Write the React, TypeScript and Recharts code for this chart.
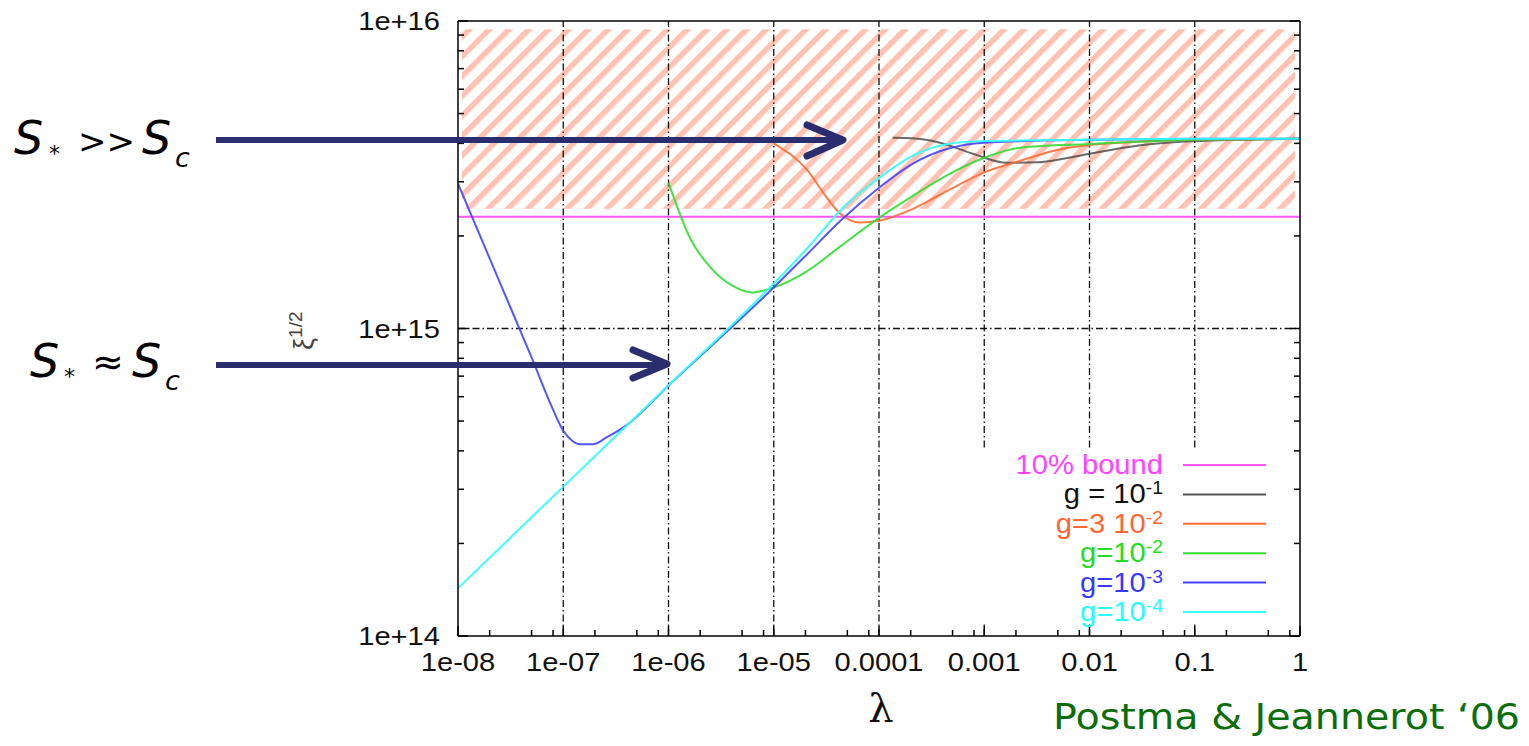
import { LineChart, Line, XAxis, YAxis, ReferenceLine, ReferenceArea } from 'recharts'

// axis ticks
const lambdaMajor = [1e-8, 1e-7, 1e-6, 1e-5, 1e-4, 1e-3, 1e-2, 1e-1, 1]
const lambdaLabels = ['1e-08', '1e-07', '1e-06', '1e-05', '0.0001', '0.001', '0.01', '0.1', '1']
const lambdaMinorSteps = [2, 5, 8]
const xiMajor = [1e14, 1e15, 1e16]
const xiLabels = ['1e+14', '1e+15', '1e+16']
const xiMinorSteps = [2, 3, 4, 5, 6, 7, 8, 9]
const gridLambda = [1e-7, 1e-6, 1e-5, 1e-4, 1e-3, 1e-2, 1e-1]
const gridXi = [1e15]

// excluded region (hatched) and the 10% bound
const hatchLambda = [1.09e-8, 0.895]
const hatchXi = [2.45e15, 9.4e15]
const lambdaBound = [1e-8, 1]
const xiBound = [2.31e15, 2.31e15]

// g = 1e-1
const lambdaG1 = [1.35e-4, 2.2e-4, 3.8e-4, 7.8e-4, 1.65e-3, 3.2e-3, 6e-3, 1e-2, 3.2e-2, 0.1, 1]
const xiG1 = [4.17e15, 4.15e15, 4.02e15, 3.7e15, 3.46e15, 3.47e15, 3.58e15, 3.7e15, 3.95e15, 4.07e15, 4.14e15]

// g = 3e-2
const lambdaG3 = [1e-5, 2.1e-5, 3.2e-5, 4.3e-5, 6.6e-5, 1e-4, 2.1e-4, 4.5e-4, 1e-3, 2.2e-3, 4.5e-3, 1e-2, 0.1, 1]
const xiG3 = [4.0e15, 3.26e15, 2.66e15, 2.36e15, 2.21e15, 2.24e15, 2.45e15, 2.81e15, 3.22e15, 3.51e15, 3.78e15, 3.95e15, 4.11e15, 4.14e15]

// g = 1e-2
const lambdaG2 = [1e-6, 1.6e-6, 2.5e-6, 4e-6, 6.3e-6, 1e-5, 2.1e-5, 4.3e-5, 1e-4, 2.1e-4, 4.5e-4, 1e-3, 2.2e-3, 1e-2, 0.1, 1]
const xiG2 = [2.98e15, 1.97e15, 1.58e15, 1.38e15, 1.31e15, 1.36e15, 1.54e15, 1.85e15, 2.29e15, 2.7e15, 3.16e15, 3.59e15, 3.87e15, 3.98e15, 4.11e15, 4.14e15]

// g = 1e-3
const lambdaG4 = [1e-8, 2.5e-8, 5e-8, 7.9e-8, 1e-7, 1.2e-7, 1.45e-7, 1.9e-7, 2.6e-7, 4e-7, 1e-6, 1e-5, 2.1e-5, 4.3e-5, 1e-4, 2.1e-4, 4.5e-4, 1e-3, 1e-2, 0.1, 1]
const xiG4 = [2.96e15, 1.41e15, 8.05e14, 5.5e14, 4.65e14, 4.33e14, 4.2e14, 4.2e14, 4.43e14, 4.85e14, 6.53e14, 1.36e15, 1.75e15, 2.24e15, 2.87e15, 3.44e15, 3.84e15, 4.02e15, 4.11e15, 4.14e15, 4.14e15]

// g = 1e-4
const lambdaG5 = [1e-8, 1e-7, 1e-6, 1e-5, 2.1e-5, 4.3e-5, 1e-4, 2.1e-4, 4.5e-4, 1e-3, 1e-2, 0.1, 1]
const xiG5 = [1.43e14, 3.06e14, 6.53e14, 1.4e15, 1.83e15, 2.42e15, 3.09e15, 3.65e15, 3.98e15, 4.07e15, 4.11e15, 4.14e15, 4.14e15]

const toRows = (xs: number[], ys: number[]) => xs.map((l, i) => ({ l, xi: ys[i] }))

const series = [
  { name: 'bound', rows: toRows(lambdaBound, xiBound), color: '#ff55ff', opacity: 1 },
  { name: 'g1', rows: toRows(lambdaG1, xiG1), color: '#3a3a3a', opacity: 0.75 },
  { name: 'g3', rows: toRows(lambdaG3, xiG3), color: '#ff6a33', opacity: 0.9 },
  { name: 'g2', rows: toRows(lambdaG2, xiG2), color: '#33dd33', opacity: 0.9 },
  { name: 'g4', rows: toRows(lambdaG4, xiG4), color: '#4444ff', opacity: 0.9 },
  { name: 'g5', rows: toRows(lambdaG5, xiG5), color: '#33ffff', opacity: 0.95 },
]

const legendRows = [
  { base: '10% bound', sup: '', color: '#ff44ff', line: '#ff55ff' },
  { base: 'g = 10', sup: '-1', color: '#111', line: '#555' },
  { base: 'g=3 10', sup: '-2', color: '#ff6633', line: '#ff6a33' },
  { base: 'g=10', sup: '-2', color: '#22dd22', line: '#33dd33' },
  { base: 'g=10', sup: '-3', color: '#3838ff', line: '#4444ff' },
  { base: 'g=10', sup: '-4', color: '#22ffff', line: '#33ffff' },
]

const withMinors = (major: number[], steps: number[]) =>
  [...major, ...major.slice(0, -1).flatMap((d) => steps.map((m) => m * d))].sort((a, b) => a - b)

const xTicks = withMinors(lambdaMajor, lambdaMinorSteps)
const yTicks = withMinors(xiMajor, xiMinorSteps)

const majorIndex = (list: number[], v: number) =>
  list.findIndex((t) => Math.abs(Math.log10(t) - Math.log10(v)) < 1e-6)

const FONT = 'Liberation Sans, Arial, Helvetica, sans-serif'

const BottomTick = ({ x, y, payload }: any) => {
  const i = majorIndex(lambdaMajor, payload.value)
  const len = i >= 0 ? 10 : 6
  return (
    <g>
      <line x1={x} y1={y} x2={x} y2={y - len} stroke="#000" strokeWidth={1.5} />
      {i >= 0 && (
        <text
          transform={`translate(${x},${y + 35}) scale(1.12,1)`}
          textAnchor="middle"
          fontSize={26}
          fontFamily={FONT}
          fill="#111"
        >
          {lambdaLabels[i]}
        </text>
      )}
    </g>
  )
}

const TopTick = ({ x, y, payload }: any) => {
  const len = majorIndex(lambdaMajor, payload.value) >= 0 ? 10 : 6
  return <line x1={x} y1={y} x2={x} y2={y + len} stroke="#000" strokeWidth={1.5} />
}

const LeftTick = ({ x, y, payload }: any) => {
  const i = majorIndex(xiMajor, payload.value)
  const len = i >= 0 ? 10 : 6
  return (
    <g>
      <line x1={x} y1={y} x2={x + len} y2={y} stroke="#000" strokeWidth={1.5} />
      {i >= 0 && (
        <text
          transform={`translate(${x - 18},${y + 9}) scale(1.12,1)`}
          textAnchor="end"
          fontSize={26}
          fontFamily={FONT}
          fill="#111"
        >
          {xiLabels[i]}
        </text>
      )}
    </g>
  )
}

const RightTick = ({ x, y, payload }: any) => {
  const len = majorIndex(xiMajor, payload.value) >= 0 ? 10 : 6
  return <line x1={x} y1={y} x2={x - len} y2={y} stroke="#000" strokeWidth={1.5} />
}

const HatchShape = (p: any) => (
  <g>
    <defs>
      <pattern id="hatch" patternUnits="userSpaceOnUse" width={14} height={14} patternTransform="rotate(45)">
        <rect x={0} y={0} width={5.5} height={14} fill="#ffc2b2" />
      </pattern>
    </defs>
    <rect x={p.x} y={p.y} width={p.width} height={p.height} fill="url(#hatch)" />
  </g>
)

const NAVY = '#2a2d6e'

export default function App() {
  const axisLine = { stroke: '#000', strokeWidth: 1.5 }
  return (
    <div style={{ position: 'absolute', left: 0, top: 0, width: 1529, height: 746, background: '#fff' }}>
      <LineChart width={1529} height={746} margin={{ top: 11, right: 219, bottom: 70, left: 398 }}>
        <XAxis
          dataKey="l"
          type="number"
          scale="log"
          domain={[1e-8, 1]}
          allowDataOverflow
          ticks={xTicks}
          interval={0}
          tick={<BottomTick />}
          tickSize={0}
          tickMargin={0}
          tickLine={false}
          axisLine={axisLine}
          height={40}
        />
        <XAxis
          xAxisId="top"
          orientation="top"
          type="number"
          scale="log"
          domain={[1e-8, 1]}
          allowDataOverflow
          ticks={xTicks}
          interval={0}
          tick={<TopTick />}
          tickSize={0}
          tickMargin={0}
          tickLine={false}
          axisLine={axisLine}
          height={10}
        />
        <YAxis
          type="number"
          scale="log"
          domain={[1e14, 1e16]}
          allowDataOverflow
          ticks={yTicks}
          interval={0}
          tick={<LeftTick />}
          tickSize={0}
          tickMargin={0}
          tickLine={false}
          axisLine={axisLine}
          width={60}
        />
        <YAxis
          yAxisId="right"
          orientation="right"
          type="number"
          scale="log"
          domain={[1e14, 1e16]}
          allowDataOverflow
          ticks={yTicks}
          interval={0}
          tick={<RightTick />}
          tickSize={0}
          tickMargin={0}
          tickLine={false}
          axisLine={axisLine}
          width={10}
        />
        <ReferenceArea
          x1={hatchLambda[0]}
          x2={hatchLambda[1]}
          y1={hatchXi[0]}
          y2={hatchXi[1]}
          shape={HatchShape}
        />
        {gridLambda.map((v) => (
          <ReferenceLine key={`gx${v}`} x={v} stroke="#111" strokeWidth={1.3} strokeDasharray="7 3 1.5 3" />
        ))}
        {gridXi.map((v) => (
          <ReferenceLine key={`gy${v}`} y={v} stroke="#111" strokeWidth={1.3} strokeDasharray="7 3 1.5 3" />
        ))}
        {series.map((s) => (
          <Line
            key={s.name}
            data={s.rows}
            dataKey="xi"
            type="monotone"
            stroke={s.color}
            strokeOpacity={s.opacity}
            strokeWidth={2}
            dot={false}
            activeDot={false}
            isAnimationActive={false}
          />
        ))}
      </LineChart>

      <svg
        width={1529}
        height={746}
        style={{ position: 'absolute', left: 0, top: 0, pointerEvents: 'none' }}
      >
        {/* legend box */}
        <rect x={978} y={450} width={312} height={174} fill="#fff" />
        {legendRows.map((r, i) => {
          const cy = 465 + i * 29.4
          return (
            <g key={r.base + r.sup}>
              <text
                transform={`translate(1163,${cy + 9}) scale(1.08,1)`}
                textAnchor="end"
                fontSize={27}
                fontFamily={FONT}
                fill={r.color}
              >
                {r.base}
                {r.sup && (
                  <tspan dy={-9} fontSize={18}>
                    {r.sup}
                  </tspan>
                )}
              </text>
              <line x1={1183} y1={cy} x2={1266} y2={cy} stroke={r.line} strokeWidth={2} />
            </g>
          )
        })}

        {/* annotations */}
        <g fontFamily="DejaVu Sans, sans-serif" fill="#000">
          <text x={14} y={154} fontSize={46} fontStyle="italic">S</text>
          <text x={49} y={161} fontSize={22}>*</text>
          <text x={78} y={153} fontSize={34}>&gt;&gt;</text>
          <text x={142} y={154} fontSize={46} fontStyle="italic">S</text>
          <text x={175} y={167} fontSize={27} fontStyle="italic">c</text>

          <text x={30} y={377} fontSize={46} fontStyle="italic">S</text>
          <text x={64} y={384} fontSize={22}>*</text>
          <text x={92} y={375} fontSize={38}>≈</text>
          <text x={132} y={377} fontSize={46} fontStyle="italic">S</text>
          <text x={165} y={390} fontSize={27} fontStyle="italic">c</text>
        </g>
        <line x1={216} y1={140} x2={838} y2={140} stroke={NAVY} strokeWidth={6} />
        <polyline
          points="807,125 843,140 807,156"
          fill="none"
          stroke={NAVY}
          strokeWidth={7}
          strokeLinecap="round"
          strokeLinejoin="round"
        />
        <line x1={216} y1={365} x2={662} y2={365} stroke={NAVY} strokeWidth={6} />
        <polyline
          points="633,350 667,364 633,378"
          fill="none"
          stroke={NAVY}
          strokeWidth={7}
          strokeLinecap="round"
          strokeLinejoin="round"
        />

        <text transform="translate(313,350) rotate(-90)" fontSize={27} fontFamily={FONT} fill="#444">
          ξ
          <tspan dy={-11} fontSize={19}>
            1/2
          </tspan>
        </text>
        <text x={881} y={722} textAnchor="middle" fontSize={40} fontFamily="DejaVu Serif, serif" fill="#111">
          λ
        </text>
        <text
          x={1053}
          y={729}
          fontSize={35}
          fontFamily="DejaVu Sans, sans-serif"
          fill="#0b6e0b"
          textLength={467}
          lengthAdjust="spacingAndGlyphs"
        >
          Postma &amp; Jeannerot ‘06
        </text>
      </svg>
    </div>
  )
}
